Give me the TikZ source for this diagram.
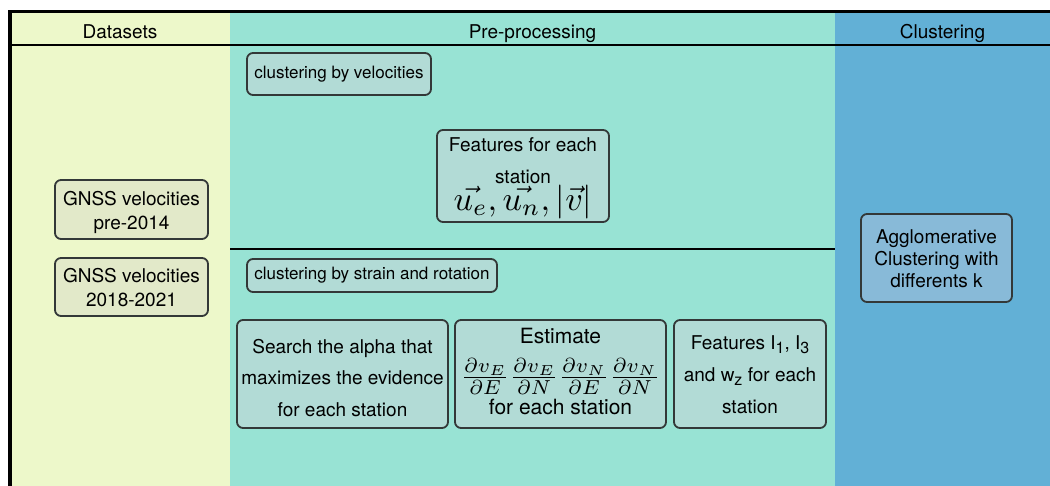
\documentclass[tikz,border=0pt]{standalone}
\usepackage{amsmath}
\usepackage{graphicx}
\usepackage{fontspec}
\setmainfont{TeX Gyre Heros}
\definecolor{dsbg}{HTML}{EDF8CA}
\definecolor{prebg}{HTML}{98E3D4}
\definecolor{clbg}{HTML}{62B0D6}
\definecolor{dsnode}{HTML}{E2E9C9}
\definecolor{prenode}{HTML}{B2DBD6}
\definecolor{clnode}{HTML}{88BAD8}
\definecolor{boxline}{HTML}{333838}
\newcommand\tstr[1]{\rule{0pt}{#1}}
\newcommand\dstr[1]{\rule[-#1]{0pt}{0pt}}
\newcommand\lowsub[1]{\raisebox{-4pt}{\fontsize{16}{16}\selectfont #1}}
\begin{document}
\begin{tikzpicture}[x=1pt,y=-1pt,
  box/.style={draw=boxline, line width=1.8pt, rounded corners=6pt, inner sep=0pt, align=center, text=black},
  dsbox/.style={box, fill=dsnode},
  prebox/.style={box, fill=prenode},
  clbox/.style={box, fill=clnode},
  hdr/.style={font=\fontsize{19}{23}\selectfont, anchor=base, inner sep=0pt},
  sepline/.style={line width=2pt, black}
]
\useasboundingbox (0,0) rectangle (1050,486);
% columns
\fill[dsbg] (10,10) rectangle (230,486);
\fill[prebg] (230,10) rectangle (835,486);
\fill[clbg] (835,10) rectangle (1050,486);
\draw[line width=3.5pt, line cap=rect] (10,486) -- (10,11.5) -- (1050,11.5);
\draw[sepline] (10,45) -- (1050,45);
\draw[sepline] (230,249) -- (835,249);
% headers
\node[hdr] (hds) at (120,39) {Datasets};
\node[hdr] (hpre) at (532.5,39) {Pre-processing};
\node[hdr] (hcl) at (942.5,39) {Clustering};
% datasets
\node[dsbox, minimum width=153pt, minimum height=59pt, font=\fontsize{19}{24}\selectfont] (g1) at (131.5,209.5) {\tstr{21pt}GNSS velocities\\pre-2014};
\node[dsbox, minimum width=153pt, minimum height=58pt, font=\fontsize{19}{24}\selectfont] (g2) at (131.5,287) {\tstr{16pt}GNSS velocities\\2018-2021};
% pre-processing top
\node[prebox, minimum width=184pt, minimum height=42pt, font=\fontsize{17}{20}\selectfont] (cv) at (339,74) {clustering by velocities};
\node[prebox, minimum width=172pt, minimum height=92pt, font=\fontsize{19}{32}\selectfont] (feat) at (523,176) {\tstr{18.5pt}Features for each\\station\\[-5pt]\scalebox{3.4}{\normalsize$\vec{u_e}, \vec{u_n}, |\vec{v}|$}};
% pre-processing bottom
\node[prebox, minimum width=250pt, minimum height=33pt, font=\fontsize{17}{20}\selectfont] (cs) at (372,275.5) {clustering by strain and rotation};
\node[prebox, minimum width=211pt, minimum height=108pt, font=\fontsize{19}{31.5}\selectfont] (sa) at (342.5,374) {\tstr{22pt}Search the alpha that\\maximizes the evidence\\for each station};
\node[prebox, minimum width=211pt, minimum height=108pt, font=\fontsize{21}{29.5}\selectfont] (est) at (560.5,374) {Estimate\\[12pt]\scalebox{2.9}{\normalsize$\frac{\partial v_E}{\partial E}\frac{\partial v_E}{\partial N}\frac{\partial v_N}{\partial E}\frac{\partial v_N}{\partial N}$}\\for each station\dstr{6pt}};
\node[prebox, minimum width=152pt, minimum height=108pt, font=\fontsize{19}{32}\selectfont] (fi) at (750,374) {\tstr{16pt}Features I\lowsub{1}, I\lowsub{3}\\and w\lowsub{z} for each\\station};
% clustering
\node[clbox, minimum width=151pt, minimum height=88pt, font=\fontsize{19}{22}\selectfont] (ag) at (936.5,258) {\tstr{16pt}Agglomerative\\Clustering with\\differents k};
\end{tikzpicture}
\end{document}
